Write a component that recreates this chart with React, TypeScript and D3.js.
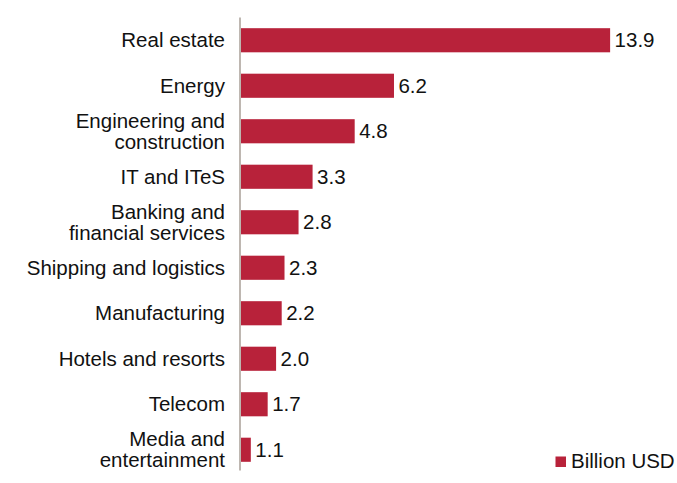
import React from "react";
import * as d3 from "d3";

const categories: string[][] = [
  ["Real estate"],
  ["Energy"],
  ["Engineering and", "construction"],
  ["IT and ITeS"],
  ["Banking and", "financial services"],
  ["Shipping and logistics"],
  ["Manufacturing"],
  ["Hotels and resorts"],
  ["Telecom"],
  ["Media and", "entertainment"],
];
const values: number[] = [13.9, 6.2, 4.8, 3.3, 2.8, 2.3, 2.2, 2.0, 1.7, 1.1];
const seriesName = "Billion USD";

const W = 677;
const H = 483;
const COLOR = "#B8223A";
const FONT = "'Liberation Sans', Arial, Helvetica, sans-serif";

export default function App() {
  const keys = categories.map((c) => c.join(" "));
  const x = d3.scaleLinear().domain([0.75, 15]).range([241, 641]);
  const y = d3.scaleBand<string>().domain(keys).range([17.5, 472.5]).paddingInner(0.47).paddingOuter(0.235);
  const axisX = 240;
  const fs = 20.5;
  const lh = 21;

  return (
    <svg
      width={W}
      height={H}
      style={{ position: "absolute", left: 0, top: 0, background: "#fff" }}
      fontFamily={FONT}
    >
      {values.map((v, i) => {
        const k = keys[i];
        const y0 = y(k)!;
        const bh = y.bandwidth();
        const cy = y0 + bh / 2;
        const lines = categories[i];
        const startY = cy - ((lines.length - 1) * lh) / 2;
        return (
          <g key={k}>
            <rect x={x(x.domain()[0])} y={y0} width={x(v) - x(x.domain()[0])} height={bh} fill={COLOR} />
            <text x={x(v) + 4.5} y={cy} dy="0.35em" fontSize={fs} fill="#111">
              {v.toFixed(1)}
            </text>
            <text textAnchor="end" fontSize={fs} fill="#111">
              {lines.map((l, j) => (
                <tspan key={j} x={225} y={startY + j * lh} dy="0.35em">
                  {l}
                </tspan>
              ))}
            </text>
          </g>
        );
      })}
      <line x1={axisX} x2={axisX} y1={y.range()[0]} y2={y.range()[1] - 2} stroke="#A89F97" strokeWidth={1.5} />
      <rect x={555.5} y={456.5} width={10.5} height={10.5} fill={COLOR} />
      <text x={571} y={460.5} dy="0.35em" fontSize={fs} fill="#111">
        {seriesName}
      </text>
    </svg>
  );
}
